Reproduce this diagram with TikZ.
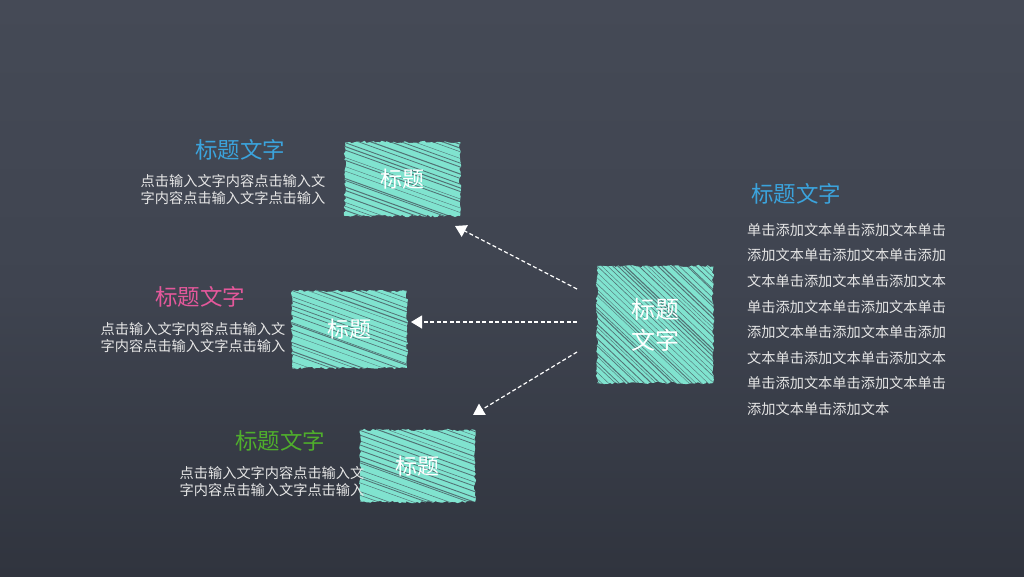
\documentclass[tikz,border=0pt]{standalone}
\usepackage{fontspec}
\setmainfont{Noto Sans CJK SC}
\usetikzlibrary{arrows.meta,calc,decorations.pathmorphing}
\definecolor{bgmid}{HTML}{3F4450}
\definecolor{bgtop}{HTML}{454A56}
\definecolor{bgbot}{HTML}{30343E}
\definecolor{chalk}{HTML}{80E3CF}
\definecolor{tblue}{HTML}{3BA3DC}
\definecolor{tpink}{HTML}{E4589B}
\definecolor{tgreen}{HTML}{4FAE2C}
\definecolor{txt}{HTML}{E6E6E6}
\begin{document}
\begin{tikzpicture}[x=1pt,y=-1pt,
  hatchbox/.style={fill=chalk, inner sep=0pt, text=white,
    decorate, decoration={random steps,segment length=2.5pt,amplitude=1.2pt},
    font=\fontsize{22}{26}\selectfont,
    path picture={
      \foreach \k in {-170,-165,...,140}{
        \pgfmathsetmacro{\j}{\k+4*rnd}
        \pgfmathsetmacro{\lw}{0.3+0.8*rnd}
        \draw[bgmid, line width=\lw pt, opacity=0.7]
          ($(path picture bounding box.north west)+(-10,\j)$) -- ++(160,#1*160);
      }
    }},
  hatchbox/.default=0.36,
  ttl/.style={font=\fontsize{22.5}{26}\selectfont},
  body/.style={text=txt, font=\fontsize{14.2}{17}\selectfont, align=center, inner sep=0pt},
  arr/.style={white, line width=1.2pt, dash pattern=on 4pt off 2.5pt,
    -{Triangle[width=13pt,length=11pt]}}]
\pgfmathsetseed{7}
\useasboundingbox (0,0) rectangle (1024,576);
\shade[top color=bgtop, bottom color=bgbot, middle color=bgmid] (0,0) rectangle (1024,576);

% boxes
\node[hatchbox, minimum width=115pt, minimum height=74pt] (b1) at (402.5,179) {标题};
\node[hatchbox, minimum width=115pt, minimum height=77pt] (b2) at (349.5,329.5) {标题};
\node[hatchbox, minimum width=115pt, minimum height=72pt] (b3) at (417.5,466) {标题};
\node[hatchbox=0.95, minimum width=116pt, minimum height=117pt, align=center,
  font=\fontsize{24}{31}\selectfont] (c) at (655,324.5) {标题\\文字};

% titles and texts
\node[ttl, text=tblue] (t1) at (240,150) {标题文字};
\node[body] (p1) at (233,190) {点击输入文字内容点击输入文\\字内容点击输入文字点击输入};
\node[ttl, text=tpink] (t2) at (200,297) {标题文字};
\node[body] (p2) at (193,337.5) {点击输入文字内容点击输入文\\字内容点击输入文字点击输入};
\node[ttl, text=tgreen] (t3) at (280,441) {标题文字};
\node[body] (p3) at (272,481.5) {点击输入文字内容点击输入文\\字内容点击输入文字点击输入};

\node[ttl, text=tblue] (t4) at (796,194) {标题文字};
\node[text=txt, font=\fontsize{14.2}{25.6}\selectfont, align=left, anchor=north west, inner sep=0pt] (p4) at (747,223)
  {单击添加文本单击添加文本单击\\添加文本单击添加文本单击添加\\文本单击添加文本单击添加文本\\单击添加文本单击添加文本单击\\添加文本单击添加文本单击添加\\文本单击添加文本单击添加文本\\单击添加文本单击添加文本单击\\添加文本单击添加文本};

% arrows
\coordinate (s1) at (577,289);
\coordinate (s2) at (577,322);
\coordinate (s3) at (577,352);
\coordinate (e1) at (455,226);
\coordinate (e2) at (411,322);
\coordinate (e3) at (473,415);
\draw[arr] (s1) -- (e1);
\draw[arr] (s2) -- (e2);
\draw[arr] (s3) -- (e3);
\end{tikzpicture}
\end{document}
